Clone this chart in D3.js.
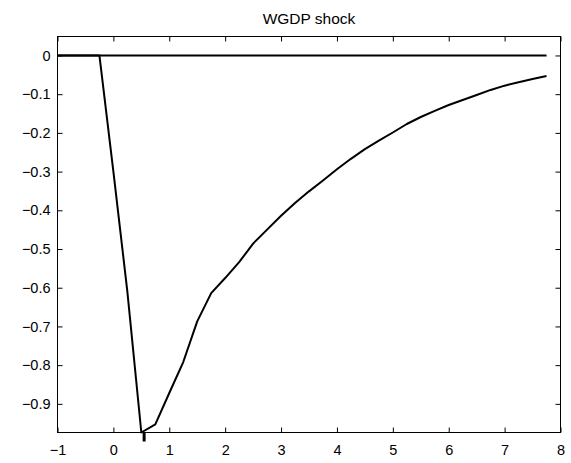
<!DOCTYPE html>
<html>
<head>
<meta charset="utf-8">
<script src="https://cdn.jsdelivr.net/npm/d3@7"></script>
<style>
  html, body { margin: 0; padding: 0; background: #fff; }
  svg { display: block; }
  text { font-family: "Liberation Sans", Arial, Helvetica, sans-serif; fill: #000; }
</style>
</head>
<body>
<script>
// Impulse response of world GDP shock (quarterly horizon, in years)
const years = [-1, -0.75, -0.5, -0.25, 0, 0.25, 0.5, 0.75, 1, 1.25, 1.5, 1.75,
  2, 2.25, 2.5, 2.75, 3, 3.25, 3.5, 3.75, 4, 4.25, 4.5, 4.75,
  5, 5.25, 5.5, 5.75, 6, 6.25, 6.5, 6.75, 7, 7.25, 7.5, 7.75];
const response = [0, 0, 0, 0, -0.30, -0.61, -0.974, -0.953, -0.872, -0.792, -0.687, -0.614,
  -0.575, -0.534, -0.486, -0.450, -0.414, -0.381, -0.351, -0.323, -0.294, -0.267, -0.242, -0.220,
  -0.199, -0.177, -0.159, -0.143, -0.128, -0.115, -0.102, -0.089, -0.078, -0.069, -0.061, -0.053];
const baseline = [0, 0];
const baselineYears = [-1, 7.75];
const xTicks = [-1, 0, 1, 2, 3, 4, 5, 6, 7, 8];
const yTicks = [0, -0.1, -0.2, -0.3, -0.4, -0.5, -0.6, -0.7, -0.8, -0.9];
const xDomain = [-1, 8];
const yDomain = [-0.974, 0.049];
const troughMark = [0.55];
const title = "WGDP shock";

const W = 571, H = 463;
const plot = { left: 57.5, right: 560.5, top: 36.5, bottom: 432.5 };

const svg = d3.select("body").append("svg")
  .attr("width", W).attr("height", H);
svg.append("rect").attr("width", W).attr("height", H).attr("fill", "#fff");

const x = d3.scaleLinear().domain(xDomain).range([plot.left, plot.right]);
const y = d3.scaleLinear().domain(yDomain).range([plot.bottom, plot.top]);

const fmt = v => v === 0 ? "0" : d3.format(".1f")(v).replace("-", "\u2212");
const tickLen = 5;

// axes with inward ticks on all four sides
const axB = d3.axisBottom(x).tickValues(xTicks).tickSizeInner(-tickLen).tickSizeOuter(0).tickPadding(12.5).tickFormat(d => String(d).replace("-", "\u2212"));
const axT = d3.axisTop(x).tickValues(xTicks).tickSizeInner(-tickLen).tickSizeOuter(0).tickFormat("");
const axL = d3.axisLeft(y).tickValues(yTicks).tickSizeInner(-tickLen).tickSizeOuter(0).tickPadding(7).tickFormat(fmt);
const axR = d3.axisRight(y).tickValues(yTicks).tickSizeInner(-tickLen).tickSizeOuter(0).tickFormat("");

function styleAxis(g) {
  g.select(".domain").remove();
  g.selectAll(".tick line").attr("stroke", "#000").attr("stroke-width", 1);
  g.selectAll(".tick text").attr("font-size", 14.5).attr("fill", "#000")
    .attr("font-family", "'Liberation Sans', Arial, sans-serif");
}
svg.append("g").attr("transform", `translate(0,${plot.bottom})`).call(axB).call(styleAxis);
svg.append("g").attr("transform", `translate(0,${plot.top})`).call(axT).call(styleAxis);
svg.append("g").attr("transform", `translate(${plot.left},0)`).call(axL).call(styleAxis);
svg.append("g").attr("transform", `translate(${plot.right},0)`).call(axR).call(styleAxis);

// frame
svg.append("rect")
  .attr("x", plot.left).attr("y", plot.top)
  .attr("width", plot.right - plot.left).attr("height", plot.bottom - plot.top)
  .attr("fill", "none").attr("stroke", "#000").attr("stroke-width", 1);

const line = d3.line().x(d => x(d[0])).y(d => y(d[1]));

// zero line
svg.append("path")
  .datum(d3.zip(baselineYears, baseline))
  .attr("d", line)
  .attr("fill", "none").attr("stroke", "#000").attr("stroke-width", 2);

// response curve
svg.append("path")
  .datum(d3.zip(years, response))
  .attr("d", line)
  .attr("fill", "none").attr("stroke", "#000").attr("stroke-width", 2)
  .attr("stroke-linejoin", "round");

// trough marker below the axis
svg.selectAll(".trough").data(troughMark).enter().append("line")
  .attr("x1", d => x(d)).attr("x2", d => x(d))
  .attr("y1", plot.bottom).attr("y2", plot.bottom + 9)
  .attr("stroke", "#000").attr("stroke-width", 3);

// title
svg.append("text")
  .attr("x", (plot.left + plot.right) / 2).attr("y", 23.5)
  .attr("text-anchor", "middle").attr("font-size", 15.5)
  .text(title);
</script>
</body>
</html>
